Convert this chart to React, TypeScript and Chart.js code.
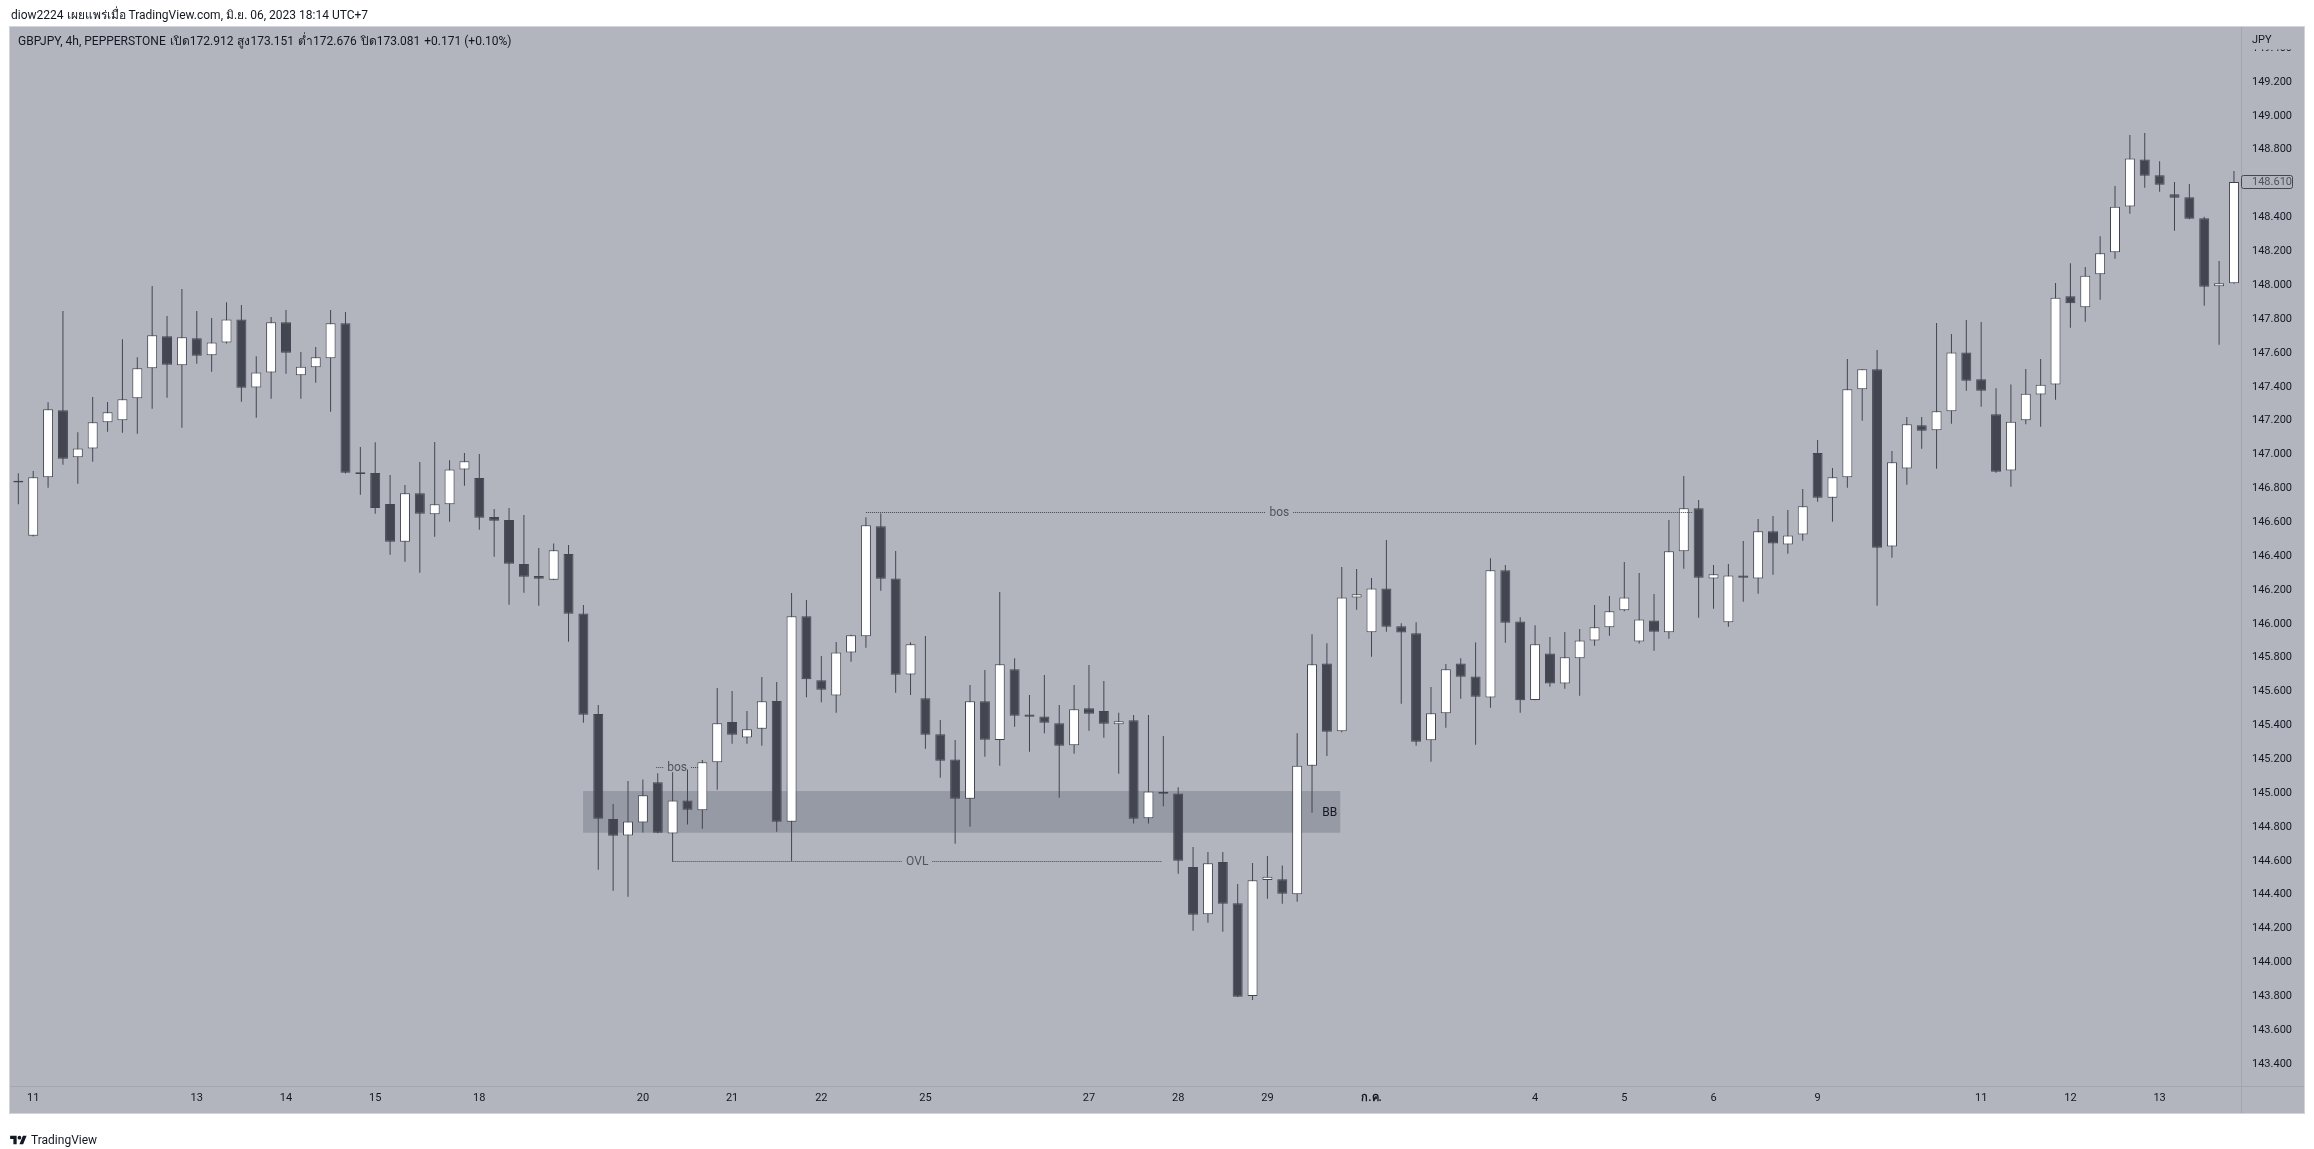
import React, { useEffect, useRef } from 'react';
import { Chart, registerables } from 'chart.js';

Chart.register(...registerables);

// ---- OHLC data (GBPJPY 4h), one entry per candle ----
const opens = [
  146.835, 146.520, 146.865, 147.261, 146.983, 147.036, 147.190, 147.202, 147.332, 147.509,
  147.698, 147.527, 147.686, 147.586, 147.662, 147.798, 147.396, 147.485, 147.781, 147.468,
  147.515, 147.568, 147.775, 146.895, 146.891, 146.707, 146.485, 146.771, 146.647, 146.706,
  146.912, 146.861, 146.631, 146.613, 146.353, 146.282, 146.260, 146.412, 146.061, 145.467,
  144.847, 144.750, 144.827, 145.064, 144.762, 144.957, 144.898, 145.182, 145.420, 145.329,
  145.380, 145.544, 144.831, 146.044, 145.666, 145.577, 145.831, 145.926, 146.576, 146.268,
  145.701, 145.560, 145.347, 145.199, 144.967, 145.542, 145.313, 145.731, 145.465, 145.453,
  145.412, 145.282, 145.501, 145.485, 145.406, 145.430, 144.851, 145.008, 144.998, 144.563,
  144.284, 144.593, 144.349, 143.801, 144.487, 144.491, 144.402, 145.162, 145.766, 145.365,
  146.156, 145.950, 146.209, 145.985, 145.944, 145.312, 145.471, 145.766, 145.689, 145.565,
  146.316, 146.014, 145.550, 145.825, 145.648, 145.796, 145.902, 145.979, 146.080, 145.896,
  146.020, 145.950, 146.428, 146.682, 146.268, 146.009, 146.286, 146.268, 146.546, 146.469,
  146.528, 147.009, 146.745, 146.865, 147.385, 147.503, 146.457, 146.918, 147.172, 147.143,
  147.255, 147.603, 147.444, 147.237, 146.906, 147.202, 147.355, 147.414, 147.934, 147.869,
  148.064, 148.194, 148.465, 148.743, 148.649, 148.537, 148.520, 148.395, 147.993, 148.011,
];
const highs = [
  146.889, 146.902, 147.308, 147.847, 147.131, 147.339, 147.310, 147.680, 147.574, 147.995,
  147.818, 147.977, 147.847, 147.806, 147.899, 147.883, 147.580, 147.812, 147.853, 147.605,
  147.635, 147.853, 147.841, 147.044, 147.072, 146.879, 146.820, 146.955, 147.074, 146.966,
  147.009, 147.003, 146.678, 146.684, 146.642, 146.447, 146.475, 146.465, 146.111, 145.520,
  144.935, 145.071, 145.081, 145.117, 145.123, 145.140, 145.195, 145.621, 145.603, 145.485,
  145.686, 145.656, 146.182, 146.140, 145.810, 145.892, 145.935, 146.629, 146.652, 146.430,
  145.891, 145.928, 145.432, 145.313, 145.638, 145.727, 146.188, 145.796, 145.579, 145.697,
  145.520, 145.638, 145.756, 145.662, 145.475, 145.461, 145.461, 145.337, 145.034, 144.681,
  144.652, 144.652, 144.463, 144.587, 144.628, 144.573, 145.353, 145.938, 145.885, 146.335,
  146.323, 146.270, 146.495, 146.003, 146.009, 145.626, 145.762, 145.796, 145.890, 146.387,
  146.347, 146.038, 145.991, 145.922, 145.951, 145.969, 146.111, 146.164, 146.365, 146.300,
  146.176, 146.613, 146.873, 146.731, 146.347, 146.353, 146.489, 146.619, 146.636, 146.672,
  146.796, 147.085, 146.920, 147.564, 147.503, 147.617, 147.020, 147.221, 147.221, 147.776,
  147.712, 147.794, 147.782, 147.391, 147.414, 147.505, 147.564, 148.013, 148.129, 148.107,
  148.289, 148.586, 148.887, 148.899, 148.732, 148.609, 148.598, 148.404, 148.143, 148.674,
];
const lows = [
  146.706, 146.515, 146.804, 146.940, 146.827, 146.957, 147.134, 147.129, 147.123, 147.270,
  147.335, 147.158, 147.536, 147.489, 147.655, 147.312, 147.217, 147.329, 147.477, 147.329,
  147.424, 147.253, 146.888, 146.762, 146.650, 146.408, 146.367, 146.302, 146.514, 146.603,
  146.815, 146.556, 146.396, 146.113, 146.183, 146.107, 146.258, 145.894, 145.416, 144.547,
  144.423, 144.388, 144.768, 144.763, 144.595, 144.815, 144.790, 145.020, 145.292, 145.292,
  145.280, 144.772, 144.599, 145.566, 145.536, 145.475, 145.776, 145.859, 146.195, 145.593,
  145.579, 145.262, 145.091, 144.701, 144.801, 145.215, 145.162, 145.392, 145.244, 145.353,
  144.973, 145.233, 145.368, 145.327, 145.114, 144.821, 144.821, 144.922, 144.524, 144.187,
  144.234, 144.181, 143.795, 143.778, 144.376, 144.347, 144.358, 144.884, 145.219, 145.360,
  146.083, 145.805, 145.953, 145.528, 145.280, 145.185, 145.386, 145.557, 145.286, 145.504,
  145.888, 145.475, 145.548, 145.628, 145.616, 145.575, 145.870, 145.929, 146.074, 145.883,
  145.841, 145.912, 146.325, 146.036, 146.089, 145.983, 146.130, 146.178, 146.290, 146.414,
  146.491, 146.721, 146.603, 146.804, 147.199, 146.107, 146.390, 146.821, 147.034, 146.916,
  147.182, 147.377, 147.282, 146.892, 146.810, 147.178, 147.164, 147.323, 147.749, 147.784,
  147.914, 148.156, 148.422, 148.576, 148.552, 148.322, 148.390, 147.879, 147.648, 148.009,
];
const closes = [
  146.845, 146.865, 147.267, 146.975, 147.036, 147.190, 147.249, 147.326, 147.509, 147.704,
  147.530, 147.692, 147.583, 147.662, 147.798, 147.394, 147.485, 147.781, 147.601, 147.518,
  147.574, 147.775, 146.892, 146.885, 146.684, 146.485, 146.771, 146.650, 146.706, 146.912,
  146.960, 146.626, 146.609, 146.355, 146.278, 146.266, 146.434, 146.059, 145.463, 144.849,
  144.748, 144.833, 144.987, 144.766, 144.957, 144.902, 145.182, 145.412, 145.345, 145.377,
  145.542, 144.831, 146.044, 145.672, 145.611, 145.831, 145.932, 146.582, 146.266, 145.699,
  145.879, 145.345, 145.191, 144.967, 145.542, 145.315, 145.761, 145.457, 145.451, 145.416,
  145.280, 145.495, 145.469, 145.410, 145.424, 144.849, 145.010, 144.996, 144.600, 144.282,
  144.585, 144.347, 143.797, 144.485, 144.506, 144.406, 145.162, 145.761, 145.362, 146.156,
  146.174, 146.209, 145.983, 145.948, 145.303, 145.471, 145.731, 145.687, 145.569, 146.316,
  146.006, 145.548, 145.879, 145.648, 145.802, 145.902, 145.979, 146.074, 146.156, 146.026,
  145.953, 146.428, 146.682, 146.272, 146.292, 146.286, 146.272, 146.546, 146.475, 146.522,
  146.694, 146.745, 146.865, 147.385, 147.503, 146.449, 146.954, 147.178, 147.140, 147.255,
  147.603, 147.436, 147.377, 146.898, 147.194, 147.359, 147.412, 147.926, 147.893, 148.056,
  148.188, 148.463, 148.749, 148.647, 148.593, 148.517, 148.393, 147.991, 148.011, 148.610,
];

// ---- axis tick labels ----
const dayTickIndices = [1, 12, 18, 24, 31, 42, 48, 54, 61, 72, 78, 84, 91, 102, 108, 114, 121, 132, 138, 144];
const dayTickTexts = ['11', '13', '14', '15', '18', '20', '21', '22', '25', '27', '28', '29', 'ก.ค.', '4', '5', '6', '9', '11', '12', '13'];
const monthTickTexts = ['ก.ค.'];
const priceTicks = [
  149.4, 149.2, 149.0, 148.8, 148.4, 148.2, 148.0, 147.8, 147.6, 147.4, 147.2, 147.0,
  146.8, 146.6, 146.4, 146.2, 146.0, 145.8, 145.6, 145.4, 145.2, 145.0, 144.8, 144.6,
  144.4, 144.2, 144.0, 143.8, 143.6, 143.4,
];
const priceMin = 143.27;
const priceMax = 149.525;

// ---- drawings on the chart ----
const zonePrices = [144.766, 145.012];
const zoneIndexSpan = [37.98, 88.9];
const zoneLabel = 'BB';
const lineLabels = ['bos', 'bos', 'OVL'];
const linePrices = [146.663, 145.156, 144.599];
const lineStartIdx = [57.0, 42.9, 44.0];
const lineEndIdx = [112.6, 45.7, 76.9];

const headerText = 'diow2224 เผยแพร่เมื่อ TradingView.com, มิ.ย. 06, 2023 18:14 UTC+7';
const legendParts = ['GBPJPY, 4h, PEPPERSTONE', 'เปิด172.912', 'สูง173.151', 'ต่ำ172.676', 'ปิด173.081', '+0.171 (+0.10%)'];
const currencyLabel = 'JPY';

const FONT = "Roboto, 'Noto Sans', 'DejaVu Sans', sans-serif";
const PANE_BG = '#b2b5be';
const DARK = '#434651';
const UP = '#ffffff';
const TEXT = '#131722';
const SEP = '#a3a6af';
const ZONE = '#969aa4';
const LINE = '#434651';

export default function App() {
  const canvasRef = useRef<HTMLCanvasElement | null>(null);

  useEffect(() => {
    const canvas = canvasRef.current;
    if (!canvas) return;

    const labels = opens.map((_, i) => String(i));
    const tickMap: Record<number, string> = {};
    dayTickIndices.forEach((idx, k) => { tickMap[idx] = dayTickTexts[k]; });
    const bodies = opens.map((o, i) => [Math.min(o, closes[i]), Math.max(o, closes[i])]);
    const wicks = lows.map((l, i) => [l, highs[i]]);
    const bodyColors = opens.map((o, i) => (closes[i] >= o ? UP : DARK));

    const overlay = {
      id: 'tvOverlay',
      beforeDraw(chart: any) {
        const { ctx, chartArea: ca, scales } = chart;
        const paneL = Math.floor(ca.left);
        const paneR = Math.round(scales.y.right);
        const paneT = Math.round(ca.top);
        const paneB = Math.round(scales.x.bottom);
        ctx.save();
        ctx.fillStyle = '#ffffff';
        ctx.fillRect(0, 0, chart.width, chart.height);
        ctx.fillStyle = PANE_BG;
        ctx.fillRect(paneL, paneT, paneR - paneL, paneB - paneT);
        ctx.strokeStyle = '#d1d4dc';
        ctx.lineWidth = 1;
        ctx.strokeRect(paneL - 0.5, paneT - 0.5, paneR - paneL + 1, paneB - paneT + 1);
        ctx.strokeStyle = SEP;
        const sx = Math.round(ca.right) + 0.5;
        ctx.beginPath(); ctx.moveTo(sx, paneT); ctx.lineTo(sx, paneB); ctx.stroke();
        const sy = Math.round(ca.bottom) + 0.5;
        ctx.beginPath(); ctx.moveTo(paneL, sy); ctx.lineTo(paneR, sy); ctx.stroke();
        ctx.restore();
      },
      beforeDatasetsDraw(chart: any) {
        const { ctx, scales: { x, y } } = chart;
        const x1 = x.getPixelForValue(zoneIndexSpan[0]);
        const x2 = x.getPixelForValue(zoneIndexSpan[1]);
        const y1 = y.getPixelForValue(zonePrices[1]);
        const y2 = y.getPixelForValue(zonePrices[0]);
        ctx.save();
        ctx.fillStyle = ZONE;
        ctx.fillRect(x1, y1, x2 - x1, y2 - y1);
        ctx.restore();
      },
      afterDatasetsDraw(chart: any) {
        const { ctx, scales: { x, y } } = chart;
        ctx.save();
        // zone label
        const zx2 = x.getPixelForValue(zoneIndexSpan[1]);
        const zy1 = y.getPixelForValue(zonePrices[1]);
        const zy2 = y.getPixelForValue(zonePrices[0]);
        ctx.font = `12px ${FONT}`;
        ctx.fillStyle = TEXT;
        ctx.textAlign = 'right';
        ctx.textBaseline = 'middle';
        ctx.fillText(zoneLabel, zx2 - 3, (zy1 + zy2) / 2 + 1);
        // dotted lines with centred labels
        lineLabels.forEach((label, k) => {
          const yy = Math.round(y.getPixelForValue(linePrices[k])) + 0.5;
          const xa = x.getPixelForValue(lineStartIdx[k]);
          const xb = x.getPixelForValue(lineEndIdx[k]);
          const mid = (xa + xb) / 2;
          ctx.font = `12px ${FONT}`;
          const w = ctx.measureText(label).width;
          ctx.strokeStyle = LINE;
          ctx.lineWidth = 1;
          ctx.setLineDash([1, 1]);
          ctx.beginPath();
          ctx.moveTo(xa, yy); ctx.lineTo(mid - w / 2 - 4, yy);
          ctx.moveTo(mid + w / 2 + 4, yy); ctx.lineTo(xb, yy);
          ctx.stroke();
          ctx.setLineDash([]);
          ctx.fillStyle = '#50535e';
          ctx.textAlign = 'center';
          ctx.textBaseline = 'middle';
          ctx.fillText(label, mid, yy);
        });
        ctx.restore();
      },
      afterDraw(chart: any) {
        const { ctx, chartArea: ca, scales: { y } } = chart;
        const last = closes[closes.length - 1];
        const yy = Math.round(y.getPixelForValue(last));
        const bx = Math.round(ca.right) + 0.5;
        ctx.save();
        ctx.fillStyle = PANE_BG;
        ctx.strokeStyle = DARK;
        ctx.lineWidth = 1;
        ctx.beginPath();
        if ((ctx as any).roundRect) (ctx as any).roundRect(bx, yy - 6.5, 51, 13, 2);
        else ctx.rect(bx, yy - 6.5, 51, 13);
        ctx.fill();
        ctx.stroke();
        ctx.font = `11px ${FONT}`;
        ctx.fillStyle = '#50535e';
        ctx.textAlign = 'left';
        ctx.textBaseline = 'middle';
        ctx.fillText(last.toFixed(3), ca.right + 10.6, yy + 0.5);
        // currency label at top of price scale
        ctx.fillStyle = PANE_BG;
        ctx.fillRect(Math.round(ca.right) + 1, Math.round(ca.top), Math.round(y.right) - Math.round(ca.right) - 1, 22.5);
        ctx.fillStyle = TEXT;
        ctx.font = `11px ${FONT}`;
        ctx.fillText(currencyLabel, ca.right + 10.6, ca.top + 13.5);
        ctx.restore();
      },
    };

    const chart = new Chart(canvas, {
      type: 'bar',
      data: {
        labels,
        datasets: [
          {
            label: 'body',
            data: bodies as any,
            backgroundColor: bodyColors,
            borderColor: DARK,
            borderWidth: 1,
            borderSkipped: false,
            barThickness: 10,
            inflateAmount: 0,
            grouped: false,
            order: 0,
          } as any,
          {
            label: 'wick',
            data: wicks as any,
            backgroundColor: DARK,
            borderWidth: 0,
            barThickness: 1,
            inflateAmount: 0,
            grouped: false,
            order: 1,
          } as any,
        ],
      },
      options: {
        responsive: false,
        animation: false,
        devicePixelRatio: 1,
        layout: { padding: { left: 10.9, top: 27, right: 10, bottom: 36 } },
        plugins: { legend: { display: false }, tooltip: { enabled: false } },
        scales: {
          x: {
            type: 'category',
            offset: true,
            grid: { display: false, drawTicks: false },
            border: { display: false },
            ticks: {
              autoSkip: false,
              maxRotation: 0,
              minRotation: 0,
              padding: 5.8,
              color: TEXT,
              font: (c: any) => ({
                family: FONT,
                size: 11,
                weight: monthTickTexts.includes(tickMap[c.index]) ? 'bold' : 'normal',
              }),
              callback: (_v: any, i: number) => tickMap[i] ?? '',
            },
            afterFit: (s: any) => { s.height = 27; },
          } as any,
          y: {
            type: 'linear',
            position: 'right',
            min: priceMin,
            max: priceMax,
            grid: { display: false, drawTicks: false },
            border: { display: false },
            afterBuildTicks: (s: any) => { s.ticks = priceTicks.map((v) => ({ value: v })); },
            ticks: {
              padding: 10.6,
              color: TEXT,
              font: { family: FONT, size: 11 },
              callback: (v: any) => Number(v).toFixed(3),
            },
            afterFit: (s: any) => { s.width = 62.6; },
          } as any,
        },
      },
      plugins: [overlay],
    });
    return () => chart.destroy();
  }, []);

  return (
    <div style={{ position: 'absolute', left: 0, top: 0, width: 2314, height: 1149, overflow: 'hidden', background: '#ffffff' }}>
      <canvas ref={canvasRef} width={2314} height={1149} style={{ position: 'absolute', left: 0, top: 0, display: 'block' }} />
      <div style={{ position: 'absolute', left: 11, top: 6, fontFamily: FONT, fontSize: 12, lineHeight: '18px', color: TEXT, whiteSpace: 'nowrap' }}>
        {headerText}
      </div>
      <div style={{ position: 'absolute', left: 18, top: 33, fontFamily: FONT, fontSize: 12, lineHeight: '16px', color: TEXT, whiteSpace: 'nowrap' }}>
        {legendParts.map((p, i) => (
          <span key={i} style={{ marginLeft: i === 0 ? 0 : 4 }}>{p}</span>
        ))}
      </div>
      <div style={{ position: 'absolute', left: 10, top: 1132, height: 16, display: 'flex', alignItems: 'center', fontFamily: FONT, fontSize: 12, color: TEXT, whiteSpace: 'nowrap' }}>
        <svg width="17" height="13" viewBox="0 0 36 28" style={{ marginRight: 4 }}>
          <path d="M14 22H7V11H0V4h14v18zM28 22h-8l7.5-18h8L28 22z" fill="#131722" />
          <circle cx="20" cy="8" r="4" fill="#131722" />
        </svg>
        <span>TradingView</span>
      </div>
    </div>
  );
}
